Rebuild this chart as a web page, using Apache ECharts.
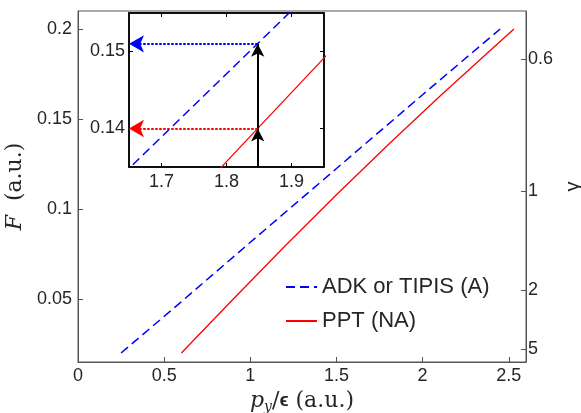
<!DOCTYPE html>
<html><head><meta charset="utf-8">
<script src="https://cdn.jsdelivr.net/npm/echarts@6/dist/echarts.min.js"></script>
<style>html,body{margin:0;padding:0;background:#fff}#c{width:581px;height:413px}</style>
</head><body><div id="c"></div>
<script>
// ---- data ----
const adkX = [0.25, 0.6, 1.0, 1.5, 2.0, 2.45];
const adkF = [0.020, 0.0485, 0.0815, 0.1225, 0.1635, 0.200];
const pptX = [0.6, 0.9, 1.2, 1.5, 1.8, 2.1, 2.4, 2.53];
const pptF = [0.020, 0.0499, 0.0793, 0.1079, 0.1357, 0.1626, 0.1887, 0.200];
const seriesNames = ['ADK or TIPIS (A)', 'PPT (NA)'];
const xTicks = [0, 0.5, 1, 1.5, 2, 2.5];
const yTicks = [0.05, 0.1, 0.15, 0.2];
const gammaLabels = ['0.6', '1', '2', '5'];
const gammaTickF = [0.1833, 0.11, 0.055, 0.022];
const insetXTicks = [1.7, 1.8, 1.9];
const insetYTicks = [0.14, 0.15];
const arrowX = 1.848;
const adkLevel = 0.151;
const pptLevel = 0.140;

const zip = (xs, ys) => xs.map((x, i) => [x, ys[i]]);
const sans = '"Liberation Sans", Arial, sans-serif';
const serif = '"DejaVu Serif","Liberation Serif",serif';
const txt = '#262626';
const axGray = '#555';
const MX = [0, 2.6], MY = [0.015, 0.21];
const IX = [1.65, 1.95], IY = [0.135, 0.155];

const chart = echarts.init(document.getElementById('c'));
const tickFont = {color: txt, fontFamily: sans, fontSize: 18};

const blackLine = {color: '#000', width: 2, type: 'solid'};
chart.setOption({
  animation: false,
  grid: [
    {left: 78, right: 55, top: 11, bottom: 51, show: true, borderColor: axGray, borderWidth: 1, backgroundColor: 'transparent', outerBoundsMode: 'none', containLabel: false},
    {left: 129, top: 13, width: 195, height: 154, show: true, borderColor: '#000', borderWidth: 1.5, backgroundColor: '#fff', z: 10, outerBoundsMode: 'none', containLabel: false}
  ],
  legend: {
    orient: 'vertical', left: 280, top: 271, itemWidth: 31, itemHeight: 12, itemGap: 12,
    data: seriesNames, itemStyle: {opacity: 0},
    textStyle: {color: txt, fontFamily: sans, fontSize: 22}
  },
  xAxis: [
    {gridIndex: 0, type: 'value', min: MX[0], max: MX[1], position: 'bottom',
     axisLine: {lineStyle: {color: axGray, width: 1}},
     axisTick: {inside: true, length: 5, lineStyle: {color: axGray}, customValues: xTicks},
     axisLabel: Object.assign({margin: 5, customValues: xTicks}, tickFont),
     splitLine: {show: false},
     name: '{p|p}{s|y}{n|/}{e|ϵ}{n| (a.u.)}', nameLocation: 'middle', nameGap: 24,
     nameTextStyle: {rich: {
       p: {fontFamily: serif, fontStyle: 'italic', fontSize: 22, color: txt},
       s: {fontFamily: serif, fontStyle: 'italic', fontSize: 14, color: txt, padding: [12, 0, 0, 0]},
       n: {fontFamily: serif, fontSize: 22, color: txt},
       e: {fontFamily: sans, fontWeight: 'bold', fontSize: 19, color: txt}
     }}},
    {gridIndex: 1, type: 'value', min: IX[0], max: IX[1], position: 'bottom', z: 12,
     axisLine: {lineStyle: {color: '#000', width: 1.5}},
     axisTick: {inside: true, length: 4, lineStyle: {color: '#000'}, customValues: insetXTicks},
     axisLabel: Object.assign({margin: 6, customValues: insetXTicks}, tickFont),
     splitLine: {show: false}},
    {gridIndex: 1, type: 'value', min: IX[0], max: IX[1], position: 'top', z: 12,
     axisLine: {lineStyle: {color: '#000', width: 1.5}},
     axisTick: {inside: true, length: 4, lineStyle: {color: '#000'}, customValues: insetXTicks},
     axisLabel: {show: false}, splitLine: {show: false}}
  ],
  yAxis: [
    {gridIndex: 0, type: 'value', min: MY[0], max: MY[1], position: 'left',
     axisLine: {show: true, lineStyle: {color: axGray, width: 1}},
     axisTick: {show: true, inside: true, length: 5, lineStyle: {color: axGray}, customValues: yTicks},
     axisLabel: Object.assign({margin: 6, customValues: yTicks}, tickFont),
     splitLine: {show: false},
     name: '{i|F}{n|  (a.u.)}', nameLocation: 'middle', nameGap: 43, nameRotate: 90,
     nameTextStyle: {rich: {
       i: {fontFamily: serif, fontStyle: 'italic', fontSize: 22, color: txt},
       n: {fontFamily: serif, fontSize: 22, color: txt}
     }}},
    {gridIndex: 0, type: 'value', min: MY[0], max: MY[1], position: 'right',
     axisLine: {show: true, lineStyle: {color: axGray, width: 1}},
     axisTick: {show: true, inside: true, length: 5, lineStyle: {color: axGray}, customValues: gammaTickF},
     axisLabel: Object.assign({margin: 2, customValues: gammaTickF,
       formatter: v => { const k = gammaTickF.findIndex(t => Math.abs(t - v) < 1e-6); return k >= 0 ? gammaLabels[k] : ''; }}, tickFont),
     splitLine: {show: false},
     name: 'γ', nameLocation: 'middle', nameGap: 37, nameRotate: 90,
     nameTextStyle: {color: txt, fontFamily: sans, fontSize: 20}},
    {gridIndex: 1, type: 'value', min: IY[0], max: IY[1], position: 'left', z: 12,
     axisLine: {show: true, lineStyle: {color: '#000', width: 1.5}},
     axisTick: {show: true, inside: true, length: 4, lineStyle: {color: '#000'}, customValues: insetYTicks},
     axisLabel: Object.assign({margin: 4, customValues: insetYTicks}, tickFont),
     splitLine: {show: false}},
    {gridIndex: 1, type: 'value', min: IY[0], max: IY[1], position: 'right', z: 12,
     axisLine: {show: true, lineStyle: {color: '#000', width: 1.5}},
     axisTick: {show: true, inside: true, length: 4, lineStyle: {color: '#000'}, customValues: insetYTicks},
     axisLabel: {show: false}, splitLine: {show: false}}
  ],
  series: [
    {name: seriesNames[0], type: 'line', xAxisIndex: 0, yAxisIndex: 0, data: zip(adkX, adkF),
     symbol: 'none', z: 2, lineStyle: {color: '#0000ff', width: 1.5, type: [9, 5]}, itemStyle: {color: '#0000ff'}},
    {name: seriesNames[1], type: 'line', xAxisIndex: 0, yAxisIndex: 0, data: zip(pptX, pptF),
     symbol: 'none', z: 2, lineStyle: {color: '#ff0000', width: 1.3}, itemStyle: {color: '#ff0000'}},
    {name: 'inset-adk', type: 'line', xAxisIndex: 1, yAxisIndex: 2, data: zip(adkX, adkF), clip: true,
     symbol: 'none', z: 12, lineStyle: {color: '#0000ff', width: 1.5, type: [9, 5]}},
    {name: 'inset-ppt', type: 'line', xAxisIndex: 1, yAxisIndex: 2, data: zip(pptX, pptF), clip: true,
     symbol: 'none', z: 12, lineStyle: {color: '#ff0000', width: 1.3},
     markLine: {silent: true, animation: false, z: 14, symbol: ['none', 'arrow'], symbolSize: [10, 13],
       label: {show: false},
       data: [
         [{coord: [arrowX, IY[0]], lineStyle: blackLine, itemStyle: {color: '#000'}}, {coord: [arrowX, pptLevel]}],
         [{coord: [arrowX, pptLevel], lineStyle: blackLine, itemStyle: {color: '#000'}}, {coord: [arrowX, adkLevel]}],
         [{coord: [arrowX, adkLevel], lineStyle: {color: '#0000ff', width: 2, type: [2.5, 1.5]}, itemStyle: {color: '#0000ff'}, symbolSize: [13, 15]}, {coord: [IX[0], adkLevel], symbolSize: [13, 15]}],
         [{coord: [arrowX, pptLevel], lineStyle: {color: '#ff0000', width: 2, type: [2.5, 1.5]}, itemStyle: {color: '#ff0000'}, symbolSize: [13, 15]}, {coord: [IX[0], pptLevel], symbolSize: [13, 15]}]
       ]}}
  ]
});
</script></body></html>
